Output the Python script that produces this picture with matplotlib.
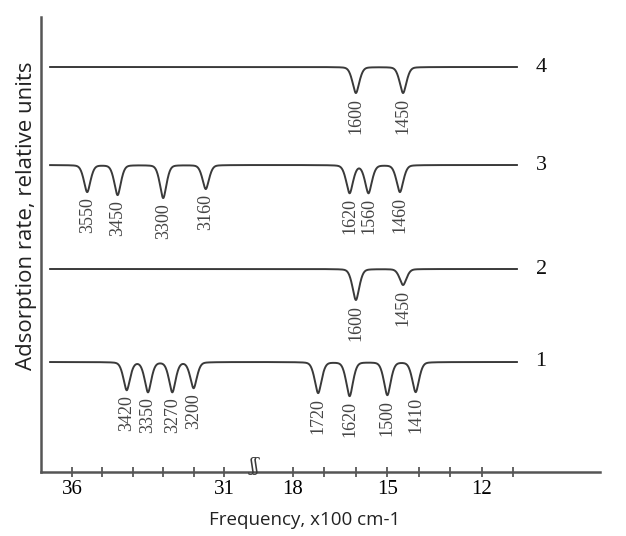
import numpy as np
import matplotlib
matplotlib.use('Agg')
import matplotlib.pyplot as plt
from matplotlib.ticker import FixedLocator, NullFormatter

# Peak positions (cm-1) and relative dip depths for each spectrum
peaks_1 = [3420, 3350, 3270, 3200, 1720, 1620, 1500, 1410]
depth_1 = [0.28, 0.30, 0.30, 0.26, 0.31, 0.34, 0.33, 0.30]
peaks_2 = [1600, 1450]
depth_2 = [0.31, 0.16]
peaks_3 = [3550, 3450, 3300, 3160, 1620, 1560, 1460]
depth_3 = [0.27, 0.30, 0.33, 0.24, 0.28, 0.28, 0.27]
peaks_4 = [1600, 1450]
depth_4 = [0.26, 0.26]
baselines = [1.10, 2.03, 3.07, 4.05]
curve_names = ['1', '2', '3', '4']

major_ticks = [36, 31, 18, 15, 12]
minor_ticks = [35, 34, 33, 32, 17, 16, 14, 13, 11]

# Broken frequency axis: 36..30 on the left, 19..11 on the right
# (forward returns minus the pixel position so that it is increasing)
L_PX, R_PX = 30.4, 31.45
BRK_HI, BRK_LO = 30.0, 19.2
U_HI = 224 + (31 - BRK_HI) * L_PX
U_LO = 293 + (18 - BRK_LO) * R_PX
GAP_SLOPE = (U_LO - U_HI) / (BRK_HI - BRK_LO)


def to_px(x):
    x = np.asarray(x, float)
    left = 224 + (31 - x) * L_PX
    right = 293 + (18 - x) * R_PX
    gap = U_HI + (BRK_HI - x) * GAP_SLOPE
    return np.where(x >= BRK_HI, left, np.where(x <= BRK_LO, right, gap))


def from_px(u):
    u = np.asarray(u, float)
    left = 31 - (u - 224) / L_PX
    right = 18 - (u - 293) / R_PX
    gap = BRK_HI - (u - U_HI) / GAP_SLOPE
    return np.where(u <= U_HI, left, np.where(u >= U_LO, right, gap))


def fwd(x):
    return -to_px(x)


def inv(v):
    return from_px(-np.asarray(v, float))


def spectrum(x, base, centers, depths, width=0.12, mix=0.35):
    # pseudo-Voigt dips: sharp bottom, soft shoulders
    y = np.full_like(x, base)
    for c, d in zip(centers, depths):
        t = (x - c / 100.0) / width
        shape = (1 - mix) * np.exp(-0.5 * t ** 2) + mix / (1 + 1.6 * t ** 2)
        y -= d * shape
    return y


fig = plt.figure(figsize=(6.26, 5.36), dpi=100)
ax = fig.add_axes([41 / 626, 64 / 536, 559 / 626, 455 / 536])
ax.set_xscale('function', functions=(fwd, inv))

xs = np.concatenate([np.linspace(36.72, 30.0, 900),
                     np.linspace(29.9, 19.3, 30),
                     np.linspace(19.2, 10.88, 1100)])

serif = 'Liberation Serif'
ink = '#3a3a3a'
all_peaks = [peaks_1, peaks_2, peaks_3, peaks_4]
all_depths = [depth_1, depth_2, depth_3, depth_4]

for base, pk, dp, name in zip(baselines, all_peaks, all_depths, curve_names):
    ax.plot(xs, spectrum(xs, base, pk, dp), color=ink, lw=1.4)
    for p, d in zip(pk, dp):
        ax.text(p / 100.0, base - d - 0.05, str(p), rotation=90, ha='center',
                va='top', family=serif, fontsize=13, color='#444444')
    ax.text(10.11, base, name, ha='center', va='center', family=serif,
            fontsize=16, color='#111111')

ax.set_xlim(float(from_px(41)), float(from_px(600)))
ax.set_ylim(0, 4.55)

ax.xaxis.set_major_locator(FixedLocator(major_ticks))
ax.xaxis.set_minor_locator(FixedLocator(minor_ticks))
ax.xaxis.set_minor_formatter(NullFormatter())
ax.set_xticklabels([str(t) for t in major_ticks], family=serif, fontsize=15)
ax.tick_params(axis='x', which='both', direction='inout', length=7, width=1.1,
               color=ink, pad=2)
ax.set_yticks([])

for s in ['top', 'right']:
    ax.spines[s].set_visible(False)
for s in ['left', 'bottom']:
    ax.spines[s].set_color('#555555')
    ax.spines[s].set_linewidth(1.8)

# axis break mark
ax.text(float(from_px(255)), 0.06, '\u0283\u0283', ha='center', va='center',
        family='DejaVu Serif', fontsize=13, color=ink)

ax.set_ylabel('Adsorption rate, relative units', family='Open Sans',
              fontsize=16, color='#222222')
ax.yaxis.set_label_coords(-4 / 559, 0.563)
fig.text(305 / 626, 16 / 536, 'Frequency, x100 cm-1', ha='center',
         va='center', family='Open Sans', fontsize=13.5, color='#222222')

fig.savefig('out.png', dpi=100)
